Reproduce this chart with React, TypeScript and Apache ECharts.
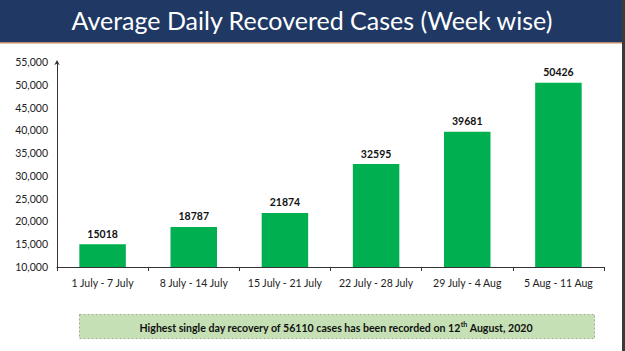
import React, { useEffect, useRef } from "react";
import * as echarts from "echarts";

const title = "Average Daily Recovered Cases (Week wise)";
const categories = [
  "1 July - 7 July",
  "8 July - 14 July",
  "15 July - 21 July",
  "22 July - 28 July",
  "29 July - 4 Aug",
  "5 Aug - 11 Aug",
];
const values = [15018, 18787, 21874, 32595, 39681, 50426];
const yMin = 10000;
const yMax = 55000;
const yStep = 5000;
const noteMain = "Highest single day recovery of 56110 cases has been recorded on 12";
const noteSup = "th";
const noteEnd = " August, 2020";

const FONT = "Lato, 'Open Sans', sans-serif";

export default function App() {
  const ref = useRef<HTMLDivElement>(null);
  useEffect(() => {
    if (!ref.current) return;
    const chart = echarts.init(ref.current, undefined, { renderer: "svg" });
    chart.setOption({
      animation: false,
      backgroundColor: "#ffffff",
      textStyle: { fontFamily: FONT },
      grid: { left: 57, right: 21, top: 62, bottom: 84, containLabel: false },
      xAxis: {
        type: "category",
        data: categories,
        boundaryGap: true,
        axisLine: { lineStyle: { color: "#333", width: 1 } },
        axisTick: { show: true, alignWithLabel: false, length: 4, lineStyle: { color: "#333" } },
        axisLabel: { color: "#222", fontSize: 10.5, margin: 10, interval: 0, fontFamily: FONT },
      },
      yAxis: {
        type: "value",
        min: yMin,
        max: yMax,
        interval: yStep,
        axisLine: {
          show: true,
          lineStyle: { color: "#333", width: 1 },
          symbol: ["none", "arrow"],
          symbolSize: [4, 5],
          symbolOffset: [0, 2],
        },
        axisTick: { show: false },
        splitLine: { show: false },
        axisLabel: {
          color: "#222",
          fontSize: 10.5,
          margin: 9,
          fontFamily: FONT,
          formatter: (v: number) => v.toLocaleString("en-US"),
        },
      },
      series: [
        {
          type: "bar",
          data: values,
          barWidth: "51%",
          itemStyle: { color: "#00B050" },
          label: {
            show: true,
            position: "top",
            distance: 5,
            color: "#111",
            fontWeight: "bold",
            fontSize: 10.5,
            fontFamily: FONT,
          },
        },
      ],
      graphic: [
        { type: "rect", left: 0, top: 0, shape: { width: 625, height: 42 }, style: { fill: "#1F3864" } },
        { type: "rect", left: 0, top: 42, shape: { width: 625, height: 1.5 }, style: { fill: "#C0896A" } },
        { type: "rect", left: 622, top: 0, shape: { width: 3, height: 351 }, style: { fill: "#3a3a3a" } },
        {
          type: "text",
          left: "center",
          top: 7,
          style: {
            text: title,
            fill: "#ffffff",
            font: "25px " + FONT,
          },
        },
        {
          type: "rect",
          left: 79,
          top: 314,
          shape: { width: 515, height: 24 },
          style: { fill: "#C5E0B4", stroke: "#9aaf8e", lineWidth: 1, lineDash: [2, 2] },
        },
        {
          type: "text",
          x: 336,
          y: 320,
          style: {
            text: "{m|" + noteMain + "}{s|" + noteSup + "}{m|" + noteEnd + "}",
            align: "center",
            rich: {
              m: { font: "bold 10.6px " + FONT, fill: "#111", verticalAlign: "bottom" },
              s: { font: "bold 7px " + FONT, fill: "#111", verticalAlign: "top", padding: [0, 0, 6, 0] },
            },
          },
        },
      ],
    });
    return () => chart.dispose();
  }, []);
  return <div ref={ref} style={{ width: 625, height: 351, position: "absolute", left: 0, top: 0 }} />;
}
